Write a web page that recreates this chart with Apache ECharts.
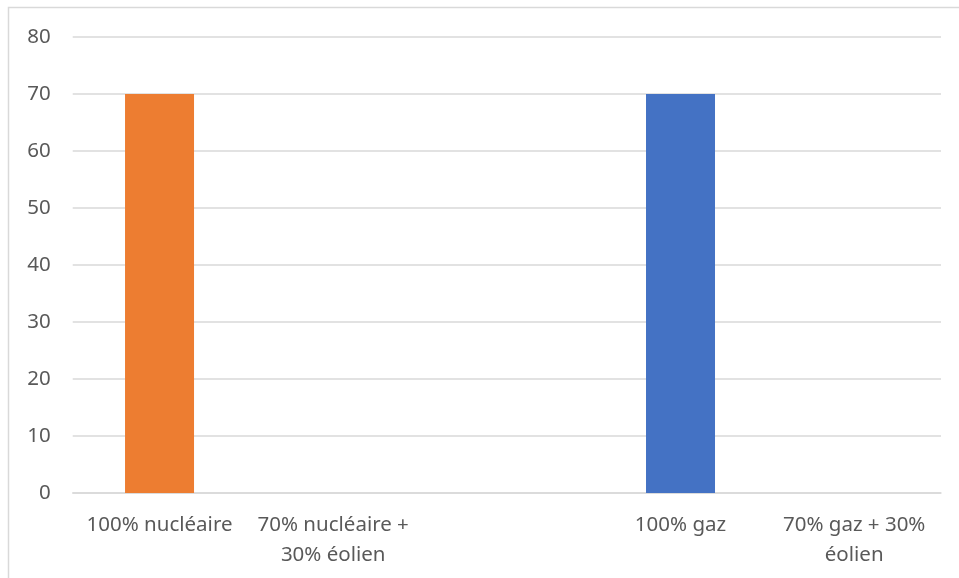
<!DOCTYPE html>
<html>
<head>
<meta charset="utf-8">
<script src="https://cdn.jsdelivr.net/npm/echarts@6/dist/echarts.min.js"></script>
<style>
html,body{margin:0;padding:0;background:#fff;}
#c{width:959px;height:578px;}
</style>
</head>
<body>
<div id="c"></div>
<script>
const categories = ["100% nucléaire", "70% nucléaire +\n30% éolien", "", "100% gaz", "70% gaz + 30%\néolien"];
const nucleaireValues = [70, null, null, null, null];
const gazValues = [null, null, null, 70, null];
const yTicks = [0, 10, 20, 30, 40, 50, 60, 70, 80];

const chart = echarts.init(document.getElementById('c'), null, {renderer: 'canvas'});
chart.setOption({
  animation: false,
  backgroundColor: '#fff',
  graphic: [{
    type: 'rect',
    shape: {x: 8.5, y: 7.5, width: 1200, height: 1200},
    style: {fill: 'none', stroke: '#d9d9d9', lineWidth: 1.5},
    silent: true
  }],
  grid: {left: 72.7, right: 18, top: 37, bottom: 85, containLabel: false},
  xAxis: {
    type: 'category',
    data: categories,
    axisLine: {show: true, lineStyle: {color: '#d9d9d9', width: 1.5}},
    axisTick: {show: false},
    axisLabel: {
      color: '#595959',
      fontFamily: 'Noto Sans',
      fontSize: 20.5,
      lineHeight: 30,
      margin: 17,
      interval: 0
    }
  },
  yAxis: {
    type: 'value',
    min: yTicks[0],
    max: yTicks[yTicks.length - 1],
    interval: 10,
    axisLine: {show: false},
    axisTick: {show: false},
    splitLine: {lineStyle: {color: '#d9d9d9', width: 1.5}},
    axisLabel: {
      color: '#595959',
      fontFamily: 'Noto Sans',
      fontSize: 20.5,
      margin: 22
    }
  },
  series: [
    {
      name: 'nucléaire',
      type: 'bar',
      stack: 'a',
      barWidth: 69,
      data: nucleaireValues,
      itemStyle: {color: '#ED7D31'}
    },
    {
      name: 'gaz',
      type: 'bar',
      stack: 'a',
      barWidth: 69,
      data: gazValues,
      itemStyle: {color: '#4472C4'}
    }
  ]
});
</script>
</body>
</html>
